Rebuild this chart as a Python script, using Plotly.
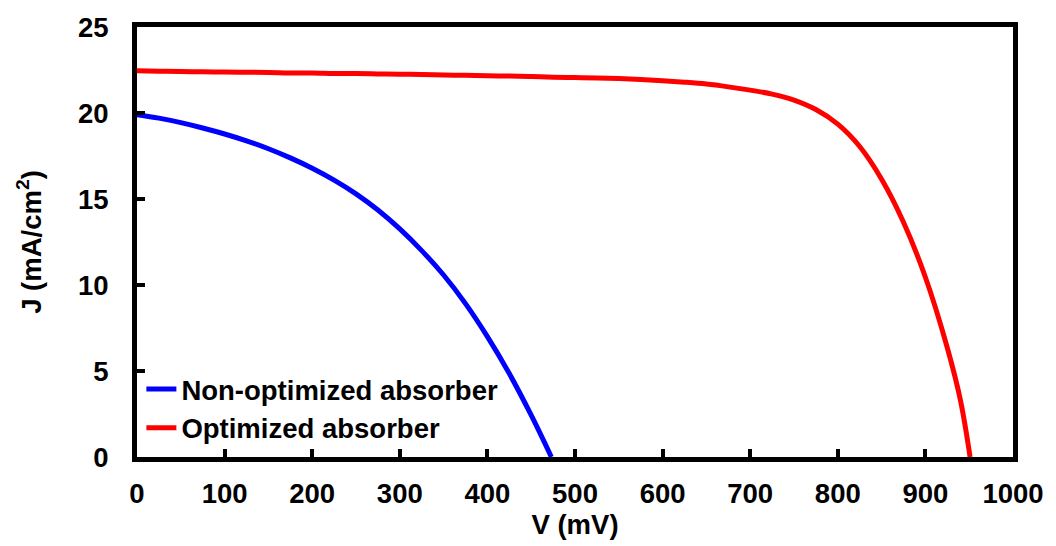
import plotly.graph_objects as go

# J-V curves: voltage (mV) vs current density (mA/cm^2)
v_non = [0, 25, 50, 75, 100, 125, 150, 175, 200, 225, 250, 275, 300, 325,
         350, 375, 400, 425, 450, 473]
j_non = [19.9, 19.70, 19.44, 19.13, 18.78, 18.38, 17.92, 17.39, 16.79, 16.10,
         15.30, 14.36, 13.26, 12.0, 10.58, 8.92, 7.0, 4.85, 2.43, 0.0]

v_opt = [0, 25, 50, 75, 100, 125, 150, 175, 200, 225, 250, 275, 300, 325,
         350, 375, 400, 425, 450, 475, 500, 525, 550, 575, 600, 625, 650,
         675, 700, 725, 750, 775, 800, 825, 850, 875, 900, 925, 940, 951]
j_opt = [22.45, 22.43, 22.41, 22.40, 22.38, 22.37, 22.36, 22.33, 22.33, 22.30,
         22.29, 22.27, 22.25, 22.24, 22.21, 22.19, 22.16, 22.15, 22.12, 22.08,
         22.06, 22.04, 22.0, 21.95, 21.88, 21.79, 21.68, 21.52, 21.33, 21.10,
         20.75, 20.2, 19.35, 18.05, 16.15, 13.65, 10.45, 6.35, 3.3, 0.0]

x_ticks = [0, 100, 200, 300, 400, 500, 600, 700, 800, 900, 1000]
y_ticks = [0, 5, 10, 15, 20, 25]

FONT = "Arial, Liberation Sans, sans-serif"
TXT = 27.5

fig = go.Figure()
fig.add_trace(go.Scatter(x=v_non, y=j_non, mode="lines", name="Non-optimized absorber",
                         line=dict(color="#0000ff", width=5, shape="spline", smoothing=1.0),
                         legendgroup="a"))
fig.add_trace(go.Scatter(x=v_opt, y=j_opt, mode="lines", name="Optimized absorber",
                         line=dict(color="#ff0000", width=5, shape="spline", smoothing=1.0),
                         legendgroup="b"))

axis_common = dict(showline=True, linecolor="black", linewidth=5, mirror=True,
                   ticks="inside", ticklen=8, tickwidth=4, tickcolor="black",
                   showgrid=False, zeroline=False,
                   tickfont=dict(family=FONT, size=TXT, color="black", weight="bold"))

fig.update_xaxes(range=[0, 1000], tickvals=x_ticks, ticktext=[str(t) for t in x_ticks],
                 ticklabelstandoff=8,
                 title=dict(text="V (mV)", standoff=6,
                            font=dict(family=FONT, size=TXT, color="black", weight="bold")),
                 **axis_common)
fig.update_yaxes(range=[0, 25], tickvals=y_ticks, ticktext=[str(t) for t in y_ticks],
                 ticklabelstandoff=18,
                 title=dict(text="J (mA/cm<sup>2</sup>)", standoff=30,
                            font=dict(family=FONT, size=TXT, color="black", weight="bold")),
                 **axis_common)

fig.update_layout(
    width=1056, height=546,
    margin=dict(l=137, r=36, t=26, b=87),
    plot_bgcolor="white", paper_bgcolor="white",
    showlegend=True,
    legend=dict(x=0.005, y=0.215, xanchor="left", yanchor="top",
                bgcolor="rgba(0,0,0,0)", tracegroupgap=0,
                font=dict(family=FONT, size=TXT, color="black", weight="bold")),
)

fig.write_html("out.html")
